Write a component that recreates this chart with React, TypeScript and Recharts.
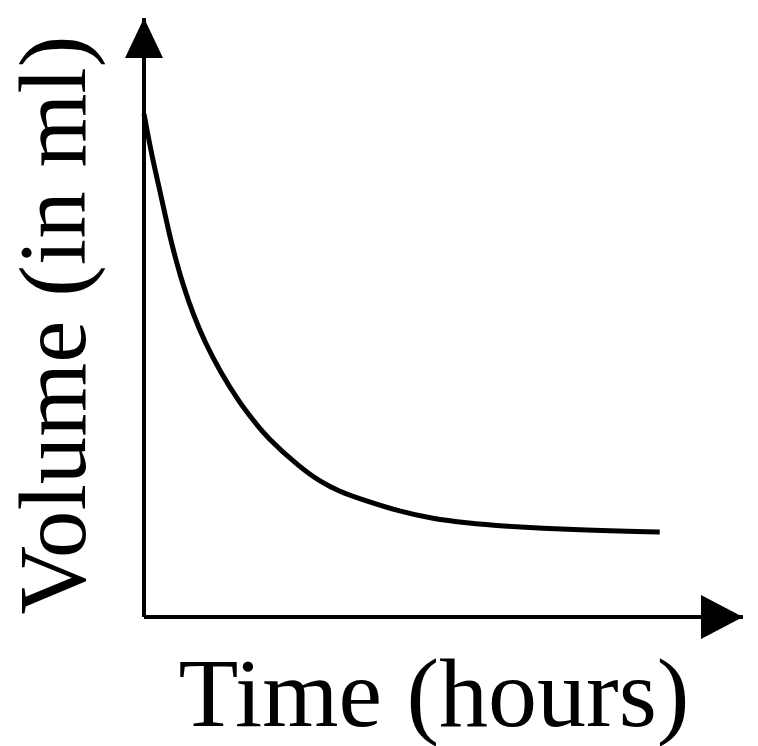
import React from 'react';
import {
  LineChart,
  Line,
  XAxis,
  YAxis,
  ReferenceLine,
  ReferenceDot,
  Customized,
} from 'recharts';

// Time axis runs 0..100, volume axis 0..100 (no tick values in the sketch)
const timeValues = [0, 1.3, 2.7, 4.3, 5.5, 6.5, 8.2, 10.2, 12.7, 16.0, 18.2, 20.5, 26.0, 29.4, 32.7, 36.1, 42.7, 48.2, 53.9, 59.4, 72.8, 86.1];
const volumeValues = [84.0, 77.0, 71.0, 63.5, 59.0, 55.5, 50.5, 45.8, 41.0, 35.7, 32.9, 30.0, 25.0, 22.6, 20.9, 19.7, 17.6, 16.4, 15.7, 15.2, 14.5, 14.2];
const axisLabels = { x: 'Time (hours)', y: 'Volume (in ml)' };

const data = timeValues.map((t, i) => ({ time: t, volume: volumeValues[i] }));

const FONT = '"Liberation Serif", "DejaVu Serif", serif';

// Arrow head pointing up, drawn at the top of the volume axis
const UpArrow = (props: any) => {
  const { cx, cy } = props;
  return <polygon points={`${cx},${cy} ${cx - 19},${cy + 40} ${cx + 19},${cy + 40}`} fill="#000" />;
};

// Arrow head pointing right, drawn at the end of the time axis
const RightArrow = (props: any) => {
  const { cx, cy } = props;
  return <polygon points={`${cx},${cy} ${cx - 42},${cy - 22} ${cx - 42},${cy + 22}`} fill="#000" />;
};

const AxisTitles = () => (
  <g>
    <text x={434} y={726} textAnchor="middle" fontFamily={FONT} fontSize={98} fill="#000">
      {axisLabels.x}
    </text>
    <text
      x={85}
      y={325}
      textAnchor="middle"
      fontFamily={FONT}
      fontSize={95}
      fill="#000"
      transform="rotate(-90, 85, 325)"
    >
      {axisLabels.y}
    </text>
  </g>
);

export default function App() {
  return (
    <div style={{ position: 'absolute', left: 0, top: 0, background: '#fff' }}>
      <LineChart width={758} height={746} data={data} margin={{ top: 18, right: 15, bottom: 129, left: 144 }}>
        <XAxis dataKey="time" type="number" domain={[0, 100]} hide />
        <YAxis type="number" domain={[0, 100]} hide />
        <ReferenceLine x={0} stroke="#000" strokeWidth={4} />
        <ReferenceLine y={0} stroke="#000" strokeWidth={4} />
        <ReferenceDot x={0} y={100} r={0} shape={UpArrow} ifOverflow="visible" />
        <ReferenceDot x={100} y={0} r={0} shape={RightArrow} ifOverflow="visible" />
        <Line
          type="basis"
          dataKey="volume"
          stroke="#000"
          strokeWidth={5}
          dot={false}
          isAnimationActive={false}
        />
        <Customized component={AxisTitles} />
      </LineChart>
    </div>
  );
}
